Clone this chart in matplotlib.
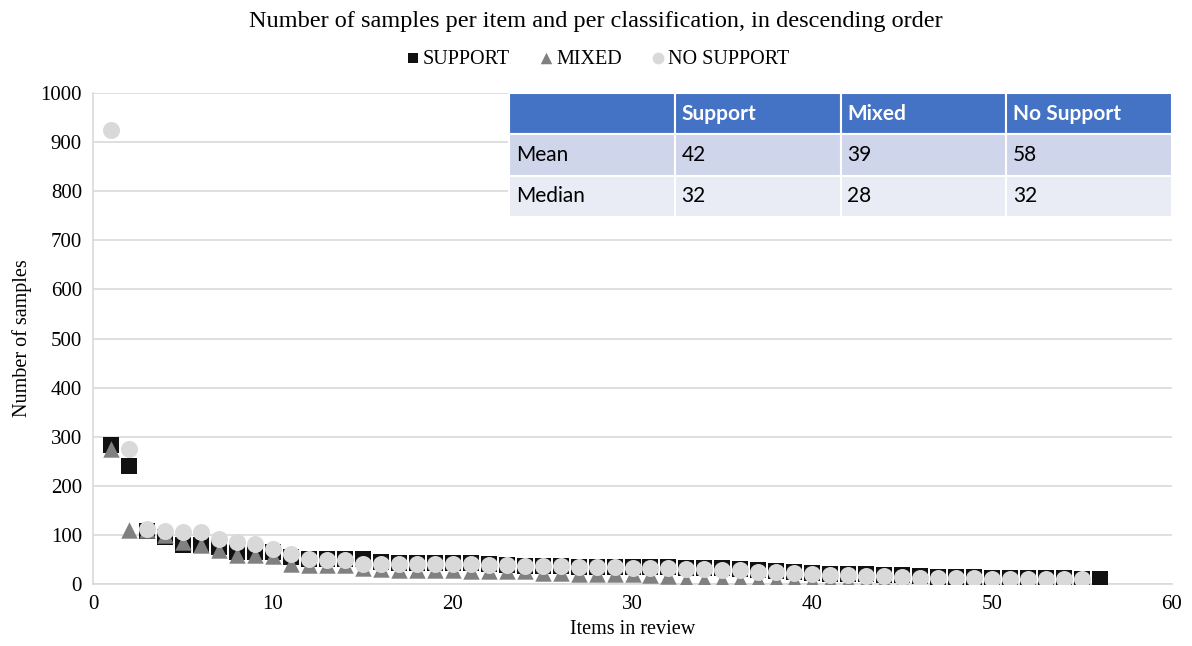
import matplotlib
matplotlib.use("Agg")
import matplotlib.pyplot as plt
import numpy as np

# values, sorted descending per classification
support = [283, 240, 108, 95, 80, 80, 75, 65, 65, 65, 55, 50, 50, 50, 50, 45,
           42, 42, 42, 42, 42, 40, 38, 36, 36, 36, 35, 35, 35, 35, 34, 34, 33,
           32, 32, 30, 28, 26, 24, 22, 20, 20, 20, 19, 18, 16, 15, 14, 14, 13,
           13, 12, 12, 12, 11, 10]
mixed = [275, 110, 110, 100, 85, 80, 70, 60, 60, 58, 40, 38, 38, 38, 33, 30,
         28, 28, 28, 28, 27, 27, 27, 27, 22, 22, 21, 20, 20, 20, 18, 16, 8, 8,
         8, 8, 8, 8, 8, 6, 6, 6, 6, 6, 6]
no_support = [925, 275, 112, 108, 105, 105, 92, 85, 82, 72, 62, 50, 48, 48,
              40, 40, 40, 40, 40, 40, 40, 38, 38, 37, 37, 37, 35, 35, 35, 33,
              33, 32, 30, 30, 28, 28, 25, 25, 22, 20, 18, 18, 16, 16, 15, 13,
              12, 12, 12, 11, 11, 11, 11, 10, 10]

table_cols = ["", "Support", "Mixed", "No Support"]
table_rows = [["Mean", "42", "39", "58"],
              ["Median", "32", "28", "32"]]

plt.rcParams['font.family'] = ['Liberation Serif', 'DejaVu Serif']

fig = plt.figure(figsize=(11.92, 6.46), dpi=100)
ax = fig.add_axes([93/1192, 1 - 584/646, 1079/1192, 491/646])

x_s = np.arange(1, len(support) + 1)
x_m = np.arange(1, len(mixed) + 1)
x_n = np.arange(1, len(no_support) + 1)

ax.scatter(x_s, support, marker='s', s=125, color='#111111', label='SUPPORT', zorder=3, linewidths=0)
ax.scatter(x_m, mixed, marker='^', s=140, color='#808080', label='MIXED', zorder=4, linewidths=0)
ax.scatter(x_n, no_support, marker='o', s=150, color='#d9d9d9', label='NO SUPPORT', zorder=5, linewidths=0)

ax.set_xlim(0, 60)
ax.set_ylim(0, 1000)
ax.set_yticks(range(0, 1001, 100))
ax.set_xticks(range(0, 61, 10))
ax.yaxis.grid(True, color='#d9d9d9', linewidth=1.2)
ax.set_axisbelow(True)
for side in ['top', 'right']:
    ax.spines[side].set_visible(False)
for side in ['left', 'bottom']:
    ax.spines[side].set_color('#d9d9d9')
    ax.spines[side].set_linewidth(1.2)
ax.tick_params(length=0, labelsize=15, pad=8)
ax.set_xlabel('Items in review', fontsize=14.5, labelpad=4)
ax.set_ylabel('Number of samples', fontsize=14.5, labelpad=6)

fig.suptitle('Number of samples per item and per classification, in descending order',
             fontsize=17.5, y=1 - 22/646, va='center')
fig.legend(loc='center', bbox_to_anchor=(597/1192, 1 - 59/646), ncol=3, frameon=False,
           fontsize=14.5, handletextpad=0.1, handlelength=0.8, columnspacing=1.4,
           markerscale=0.7)

# summary table in the upper right
tab = ax.table(cellText=table_rows, colLabels=table_cols, colLoc='left',
               bbox=[(509-93)/1079, (584-217)/491, (1172-509)/1079, 124/491],
               cellLoc='left')
tab.auto_set_font_size(False)
for (r, c), cell in tab.get_celld().items():
    cell.set_edgecolor('white')
    cell.set_linewidth(1.5)
    cell.PAD = 0.04
    cell.get_text().set_fontfamily(['Liberation Sans Narrow', 'Lato'])
    cell.get_text().set_fontsize(15)
    if r == 0:
        cell.set_facecolor('#4472c4')
        cell.get_text().set_color('white')
        cell.get_text().set_fontweight('bold')
    elif r == 1:
        cell.set_facecolor('#cfd5ea')
    else:
        cell.set_facecolor('#e9ebf5')
tab.set_zorder(6)

fig.savefig('out.png', dpi=100)
